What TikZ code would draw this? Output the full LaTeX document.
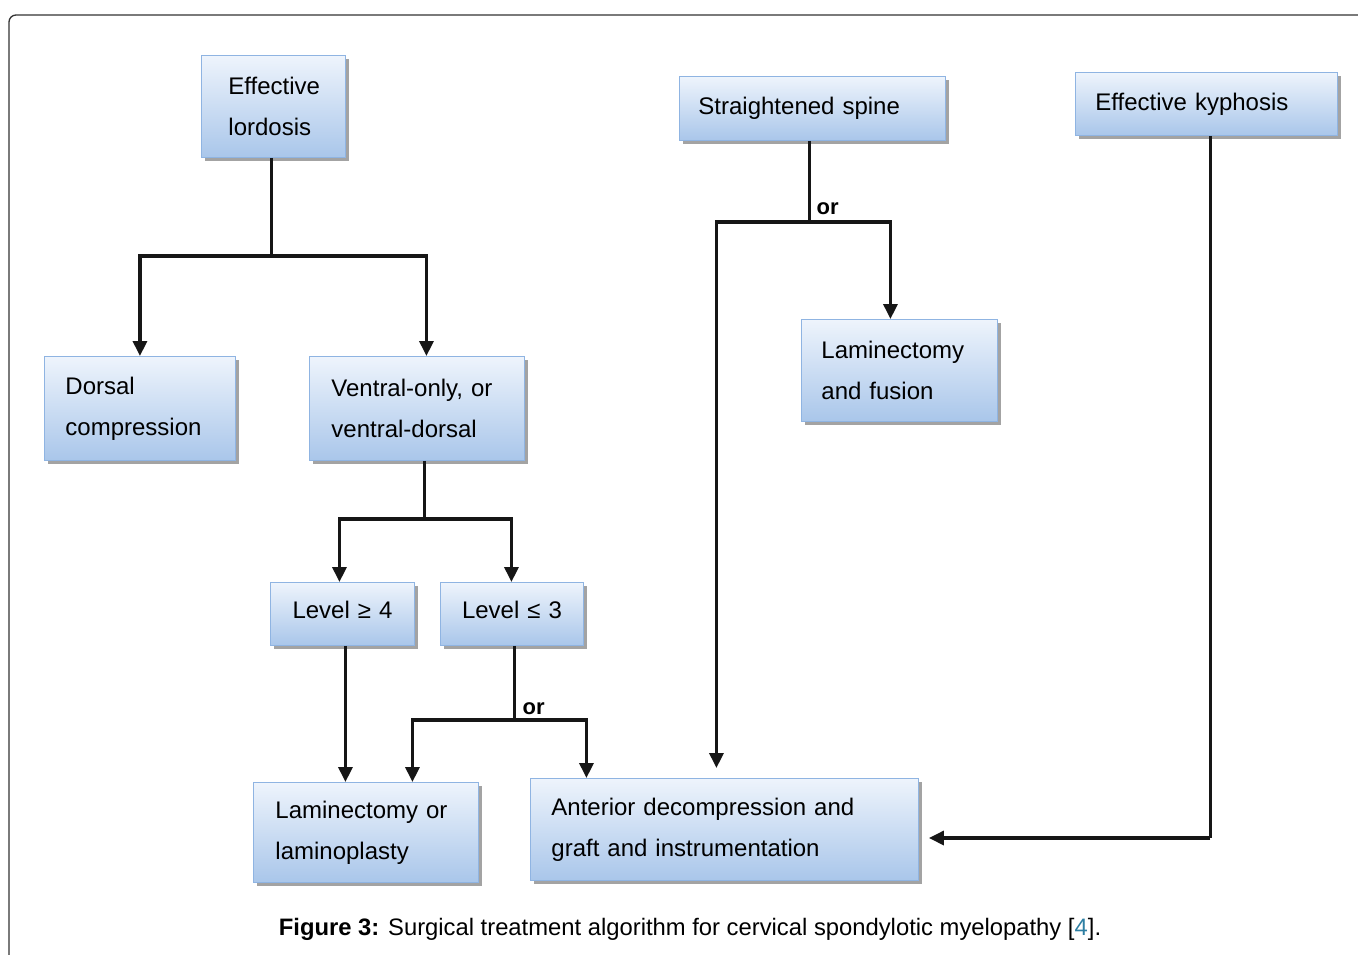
\documentclass[tikz,border=0pt]{standalone}
\usepackage{fontspec}
\setmainfont{Liberation Sans}
\usetikzlibrary{arrows.meta,shadows,calc}
\definecolor{boxtop}{HTML}{EEF4FC}
\definecolor{boxbot}{HTML}{A9C6EA}
\definecolor{boxedge}{HTML}{8FB4E2}
\definecolor{linecol}{HTML}{161616}
\definecolor{refcol}{HTML}{2E7FA3}
\tikzset{
  box/.style={draw=boxedge, line width=0.9pt, top color=boxtop, bottom color=boxbot,
    drop shadow={shadow xshift=3.5pt, shadow yshift=-4pt, fill=black!60, opacity=0.6},
    anchor=north west, font=\fontsize{24}{41}\selectfont, align=left, inner ysep=0pt},
  conn/.style={draw=linecol, line width=3.2pt},
  arr/.style={conn, -{Triangle[width=14pt,length=15pt]}},
  orlab/.style={font=\fontsize{22}{24}\selectfont\bfseries, inner sep=0pt}
}
\begin{document}
\begin{tikzpicture}[x=1pt,y=-1pt]
\useasboundingbox (0,0) rectangle (1358,954);
% frame
\draw[black!80, line width=1.3pt, rounded corners=7pt] (9,960) -- (9,15) -- (1370,15);
% boxes
\node[box, minimum width=144, minimum height=102, text width=90, inner xsep=27] (lord) at (201,55) {Effective\\lordosis};
\node[box, minimum width=191, minimum height=104, text width=149, inner xsep=21] (dors) at (44,356) {Dorsal\\compression};
\node[box, minimum width=215, minimum height=104, text width=171, inner xsep=22] (vent) at (309,356) {Ventral-only, or\\ventral-dorsal};
\node[box, minimum width=144, minimum height=63, text width=104, inner xsep=20, align=center, text depth=9pt] (lge) at (270,582) {Level ≥ 4};
\node[box, minimum width=143, minimum height=63, text width=103, inner xsep=20, align=center, text depth=9pt] (lle) at (440,582) {Level ≤ 3};
\node[box, minimum width=225, minimum height=100, text width=181, inner xsep=22] (lamor) at (253,782) {Laminectomy or\\laminoplasty};
\node[box, minimum width=388, minimum height=102, text width=346, inner xsep=21] (ant) at (530,778) {Anterior decompression and\\graft and instrumentation};
\node[box, minimum width=266, minimum height=64, text width=228, inner xsep=19] (str) at (679,76) {Straightened spine};
\node[box, minimum width=196, minimum height=102, text width=156, inner xsep=20] (fus) at (801,319) {Laminectomy\\and fusion};
\node[box, minimum width=262, minimum height=63, text width=222, inner xsep=20] (kyp) at (1075,72) {Effective kyphosis};
% junctions
\coordinate (j1) at ([xshift=-2pt]lord.south |- 0,256);
\coordinate (j2) at ([xshift=7.5pt]vent.south |- 0,519);
\coordinate (j3) at ([xshift=2.5pt]lle.south |- 0,720);
\coordinate (j4) at ([xshift=-3pt]str.south |- 0,222);
\coordinate (k1) at ([xshift=4pt]kyp.south |- 0,838);
% connectors
\draw[conn] ([xshift=-2pt]lord.south) -- (j1);
\draw[arr] (j1) -| (dors.north);
\draw[arr] (j1) -| ([xshift=9.5pt]vent.north);
\draw[conn] ([xshift=7.5pt]vent.south) -- (j2);
\draw[arr] (j2) -| ([xshift=-3pt]lge.north);
\draw[arr] (j2) -| ([xshift=-0.5pt]lle.north);
\draw[arr] ([xshift=3pt]lge.south) -- ([xshift=-20.5pt]lamor.north);
\draw[conn] ([xshift=2.5pt]lle.south) -- (j3);
\draw[arr] (j3) -| ([xshift=46.5pt]lamor.north);
\draw[arr] (j3) -| ([xshift=-138pt]ant.north);
\draw[conn] ([xshift=-3pt]str.south) -- (j4);
\draw[arr] (j4) -| ([xshift=-9pt]fus.north);
\draw[arr] (j4) -| ([xshift=-8pt,yshift=10pt]ant.north);
\draw[conn] ([xshift=4pt]kyp.south) -- (k1);
\draw[arr] (k1) -- ([xshift=10pt]ant.east |- k1);
% or labels
\node[orlab, anchor=south west] (or1) at ([xshift=7pt,yshift=7pt]j4) {or};
\node[orlab, anchor=south west] (or2) at ([xshift=8pt,yshift=5pt]j3) {or};
% caption
\node[font=\fontsize{23.8}{26}\selectfont, inner sep=0pt] (cap) at (690,929)
  {\textbf{Figure 3:} Surgical treatment algorithm for cervical spondylotic myelopathy [\textcolor{refcol}{4}].};
\end{tikzpicture}
\end{document}
